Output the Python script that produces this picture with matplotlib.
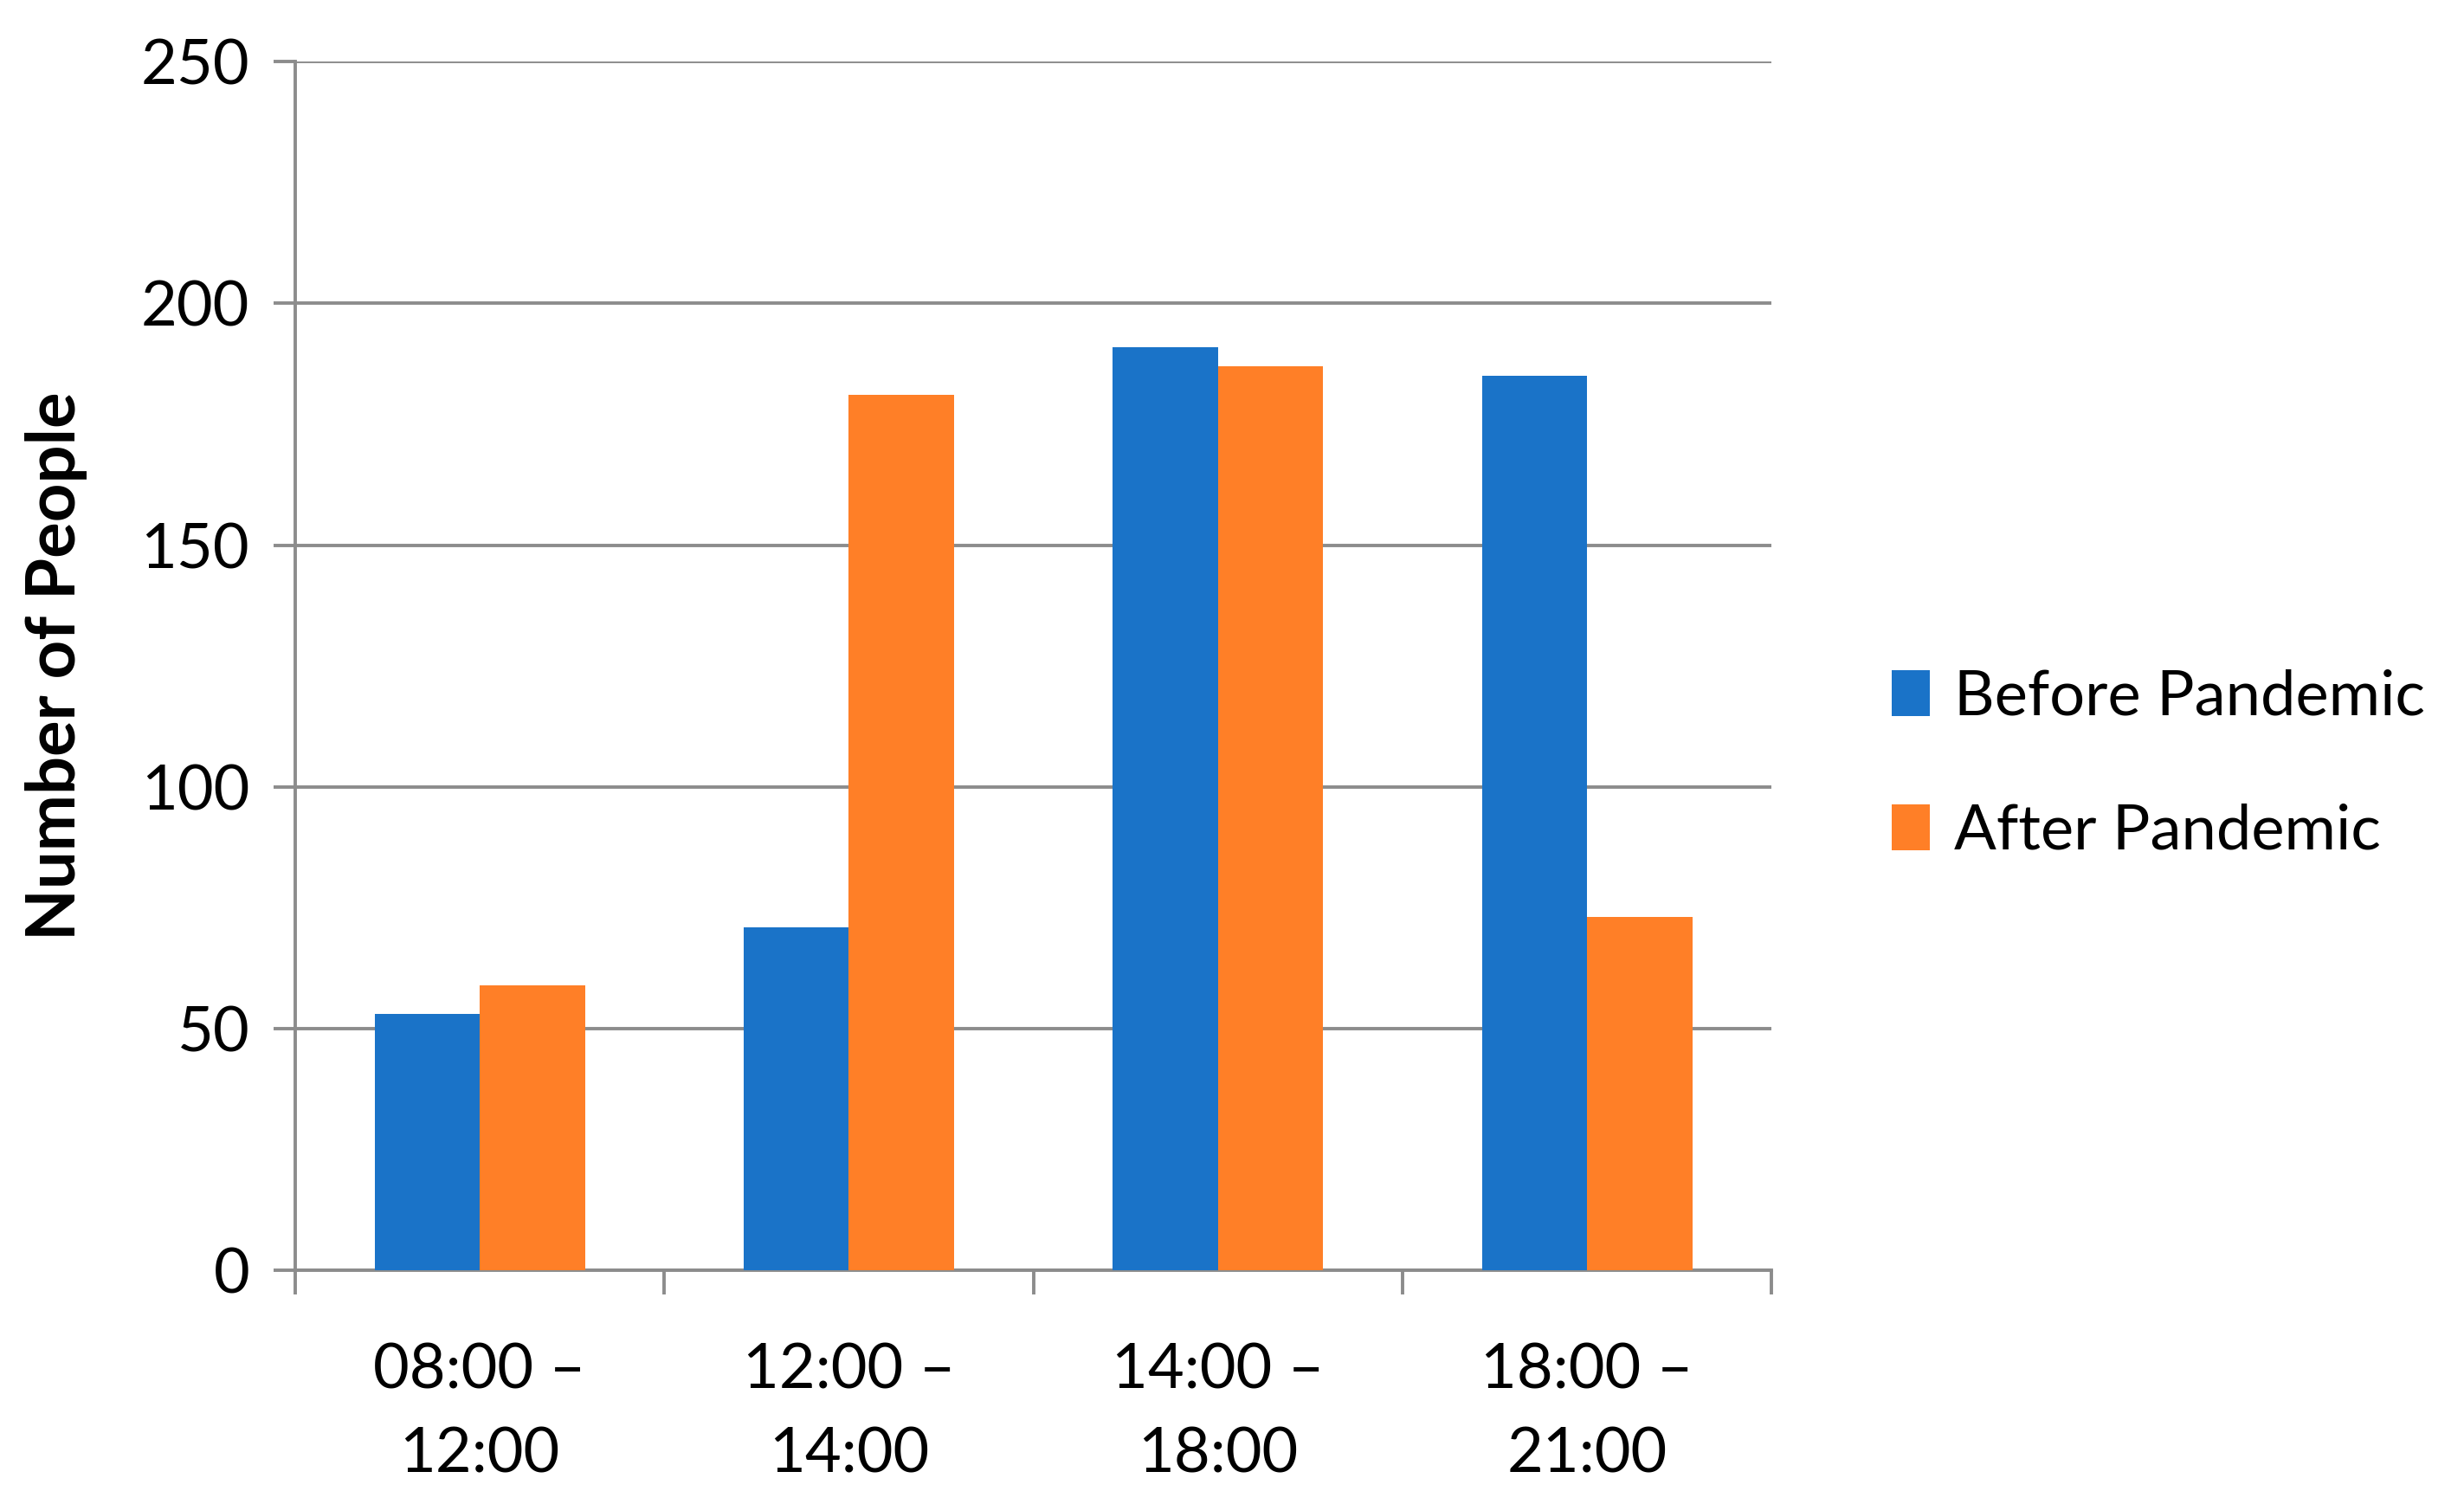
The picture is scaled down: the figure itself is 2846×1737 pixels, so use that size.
import matplotlib
matplotlib.use("Agg")
import matplotlib.pyplot as plt
import numpy as np

# data
slots = ["08:00 \u2013\n12:00", "12:00 \u2013\n14:00", "14:00 \u2013\n18:00", "18:00 \u2013\n21:00"]
before = [53, 71, 191, 185]
after = [59, 181, 187, 73]

blue = "#1A73C8"
orange = "#FF7F27"
gray = "#8C8C8C"

plt.rcParams['font.family'] = ['Lato', 'DejaVu Sans']

fig = plt.figure(figsize=(14.23, 8.685), dpi=200)
ax = fig.add_axes([0.1198, 0.1554, 0.719 - 0.1198, 0.959 - 0.1554])

x = np.arange(len(slots))
w = 0.285
b1 = ax.bar(x - w / 2, before, w, color=blue, label="Before Pandemic", zorder=3)
b2 = ax.bar(x + w / 2, after, w, color=orange, label="After Pandemic", zorder=3)

ax.set_xlim(-0.5, len(slots) - 0.5)
ax.set_ylim(0, 250)
ax.set_yticks([0, 50, 100, 150, 200, 250])
ax.yaxis.grid(True, color=gray, linewidth=1.4, zorder=0)

for s in ["top", "right"]:
    ax.spines[s].set_visible(False)
for s in ["left", "bottom"]:
    ax.spines[s].set_color(gray)
    ax.spines[s].set_linewidth(1.4)

# category ticks sit on the boundaries
ax.set_xticks(np.arange(-0.5, len(slots)), minor=False)
ax.set_xticklabels([])
ax.set_xticks(x, minor=True)
ax.set_xticklabels(slots, minor=True, fontsize=26, linespacing=1.6)
ax.tick_params(axis="x", which="major", length=10, width=1.4, color=gray)
ax.tick_params(axis="x", which="minor", length=0, pad=30)
ax.tick_params(axis="y", length=9, width=1.4, color=gray, labelsize=26, pad=10)

ax.set_ylabel("Number of People", fontsize=28, fontweight="bold", labelpad=22)

fig.legend(handles=[b1, b2], loc="center left", bbox_to_anchor=(0.745, 0.492),
           frameon=False, fontsize=26, handlelength=0.6, handleheight=0.75,
           handletextpad=0.4, labelspacing=1.25)

fig.savefig("out.png", dpi=200, facecolor="white")
